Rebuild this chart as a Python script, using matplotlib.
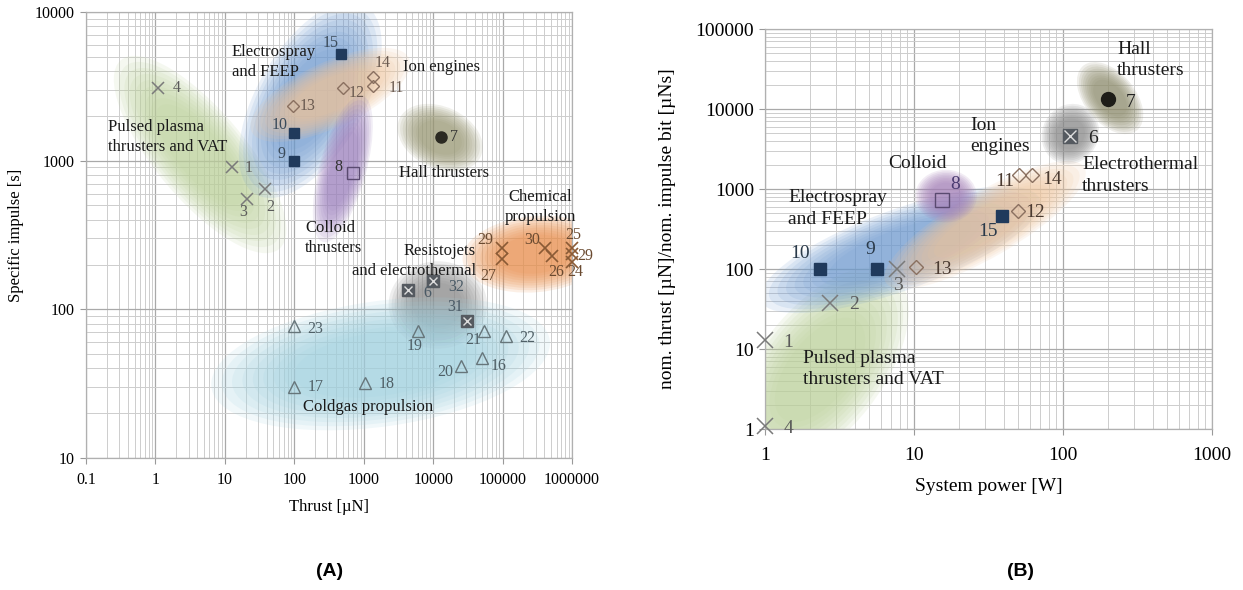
import numpy as np
import matplotlib
matplotlib.use("Agg")
import matplotlib.pyplot as plt
from matplotlib.patches import Ellipse
from matplotlib.transforms import ScaledTranslation
from matplotlib.ticker import LogLocator, NullFormatter

plt.rcParams['font.family'] = ['Liberation Serif', 'DejaVu Serif']

# ---------------- data, panel A: thrust [uN] vs specific impulse [s]
a_ppt_x = [12.7, 38, 21, 1.1]
a_ppt_y = [910, 640, 550, 3100]
a_ppt_id = ['1', '2', '3', '4']

a_es_x = [100, 100, 470]
a_es_y = [1000, 1540, 5200]
a_es_id = ['9', '10', '15']

a_ion_x = [96, 500, 1350, 1350]
a_ion_y = [2340, 3100, 3650, 3200]
a_ion_id = ['13', '12', '14', '11']

a_col_x = [700]
a_col_y = [830]
a_col_id = ['8']

a_hall_x = [13000]
a_hall_y = [1450]
a_hall_id = ['7']

a_chem_x = [98000, 98000, 410000, 510000, 1000000, 1000000, 1000000]
a_chem_y = [260, 217, 260, 227, 260, 235, 207]
a_chem_id = ['29a', '27', '30', '26', '25', '29b', '24']

a_res_x = [4400, 10000, 31000]
a_res_y = [134, 155, 83]
a_res_id = ['6', '32', '31']

a_cold_x = [100, 100, 1050, 6000, 25000, 54000, 51000, 112000]
a_cold_y = [77, 30, 32, 71, 41.5, 72, 47, 66]
a_cold_id = ['23', '17', '18', '19', '20', '21', '16', '22']

a_xticks = [0.1, 1, 10, 100, 1000, 10000, 100000, 1000000]
a_xticklabels = ['0.1', '1', '10', '100', '1000', '10000', '100000', '1000000']
a_yticks = [10, 100, 1000, 10000]
a_yticklabels = ['10', '100', '1000', '10000']

# ---------------- data, panel B: system power [W] vs thrust / impulse bit [uNs]
b_ppt_x = [1, 2.73, 7.7, 1]
b_ppt_y = [13, 37.6, 100, 1.1]
b_ppt_id = ['1', '2', '3', '4']

b_es_x = [5.65, 2.34, 39]
b_es_y = [100, 100, 460]
b_es_id = ['9', '10', '15']

b_ion_x = [10.3, 50, 51, 62]
b_ion_y = [105, 530, 1500, 1500]
b_ion_id = ['13', '12', '11', '14']

b_col_x = [15.4]
b_col_y = [730]
b_col_id = ['8']

b_et_x = [112]
b_et_y = [4600]
b_et_id = ['6']

b_hall_x = [200]
b_hall_y = [13300]
b_hall_id = ['7']

b_xticks = [1, 10, 100, 1000]
b_xticklabels = ['1', '10', '100', '1000']
b_yticks = [1, 10, 100, 1000, 10000, 100000]
b_yticklabels = ['1', '10', '100', '1000', '10000', '100000']

# label offsets in pixels (dx, dy) relative to marker
a_off = {'1': (17, -1), '2': (5, -18), '3': (-4, -13), '4': (18, 0),
         '9': (-13, 7), '10': (-15, 8), '15': (-10, 11),
         '13': (15, 0), '12': (14, -5), '14': (10, 14), '11': (24, -2),
         '8': (-15, 6), '7': (13, 0),
         '29a': (-17, 8), '27': (-14, -17), '30': (-13, 8), '26': (4, -16),
         '25': (1, 13), '29b': (13, -2), '24': (3, -10),
         '6': (19, -3), '32': (23, -6), '31': (-12, 14),
         '23': (21, -3), '17': (21, 0), '18': (21, -1), '19': (-3, -15),
         '20': (-16, -6), '21': (-11, -9), '16': (16, -8), '22': (21, -2)}
b_off = {'1': (23, -3), '2': (24, -2), '3': (1, -17), '4': (23, -3),
         '9': (-7, 20), '10': (-20, 15), '15': (-14, -16),
         '13': (26, -2), '12': (17, -1), '11': (-15, -7), '14': (20, -5),
         '8': (13, 15), '6': (23, -3), '7': (23, -3)}

fig = plt.figure(figsize=(12.43, 5.90), dpi=100)
axA = fig.add_axes([86 / 1243, 1 - 458 / 590, 486 / 1243, 446 / 590])
axB = fig.add_axes([765 / 1243, 1 - 429 / 590, 447 / 1243, 400 / 590])


def blob(ax, x, y, w, h, ang, color, n=9):
    # soft shaded region: stacked translucent ellipses, size in pixels
    for k in range(n):
        s = 1.12 - 0.55 * k / (n - 1)
        tr = fig.dpi_scale_trans + ScaledTranslation(x, y, ax.transData)
        ax.add_patch(Ellipse((0, 0), w * s / 100, h * s / 100, angle=ang, transform=tr,
                             fc=color, ec='none', alpha=0.14, zorder=1))


def style(ax, xt, xtl, yt, ytl, fs, pad):
    ax.set_xscale('log')
    ax.set_yscale('log')
    ax.set_xticks(xt)
    ax.set_xticklabels(xtl)
    ax.set_yticks(yt)
    ax.set_yticklabels(ytl)
    ax.set_xlim(xt[0], xt[-1])
    ax.set_ylim(yt[0], yt[-1])
    ax.xaxis.set_minor_locator(LogLocator(base=10, subs=np.arange(2, 10)))
    ax.yaxis.set_minor_locator(LogLocator(base=10, subs=np.arange(2, 10)))
    ax.xaxis.set_minor_formatter(NullFormatter())
    ax.yaxis.set_minor_formatter(NullFormatter())
    ax.grid(which='major', color='#a9a9a9', lw=0.9, zorder=0)
    ax.grid(which='minor', color='#cdcdcd', lw=0.7, zorder=0)
    ax.set_axisbelow(True)
    ax.tick_params(which='major', length=4, color='#999999', labelsize=fs, pad=4)
    ax.tick_params(axis='x', which='major', pad=pad)
    ax.tick_params(which='minor', length=0)
    for sp in ax.spines.values():
        sp.set_color('#b0b0b0')
        sp.set_linewidth(0.9)


def labels(ax, xs, ys, ids, off, fs, color='#5a5a5a'):
    for x, y, i in zip(xs, ys, ids):
        dx, dy = off[i]
        ax.annotate(i.rstrip('ab'), (x, y), xytext=(dx, dy), textcoords='offset pixels',
                    ha='center', va='center', fontsize=fs, color=color, zorder=5)


style(axA, a_xticks, a_xticklabels, a_yticks, a_yticklabels, 11.5, 6)
style(axB, b_xticks, b_xticklabels, b_yticks, b_yticklabels, 14, 9)

# ---------------- panel A regions
blob(axA, 4.4, 1100, 220, 80, -50, '#bcd19b')
blob(axA, 170, 2570, 195, 95, 60, '#6f9bd0')
blob(axA, 330, 2770, 155, 58, 25, '#efc59c')
blob(axA, 500, 880, 135, 42, 75, '#9c80bd')
blob(axA, 12600, 1430, 80, 55, -25, '#9a9874')
blob(axA, 295000, 235, 130, 68, 5, '#ea8f4c')
blob(axA, 11700, 107, 88, 78, 0, '#8a8a8a')
blob(axA, 1750, 43, 305, 112, 8, '#9fd0df')

mk = dict(zorder=4, clip_on=False, ls='none')
axA.plot(a_ppt_x, a_ppt_y, 'x', ms=9, mew=1.1, color='#7a7a7a', **mk)
axA.plot(a_es_x, a_es_y, 's', ms=7.5, color='#203a5c', **mk)
axA.plot(a_ion_x, a_ion_y, 'D', ms=6, mfc='none', mew=1, color='#8a7060', **mk)
axA.plot(a_col_x, a_col_y, 's', ms=8, mfc='none', mew=1, color='#5a4a70', **mk)
axA.plot(a_hall_x, a_hall_y, 'o', ms=8, color='#2b2a22', **mk)
axA.plot(a_chem_x, a_chem_y, 'x', ms=9, mew=1.2, color='#8a5a35', **mk)
axA.plot(a_res_x, a_res_y, 's', ms=8, color='#555a60', **mk)
axA.plot(a_res_x, a_res_y, 'x', ms=6, mew=1, color='#dddddd', **mk)
axA.plot(a_cold_x, a_cold_y, '^', ms=8, mfc='none', mew=1, color='#66757a', **mk)

labels(axA, a_ppt_x, a_ppt_y, a_ppt_id, a_off, 11.5)
labels(axA, a_es_x, a_es_y, a_es_id, a_off, 11.5, '#3a4a5a')
labels(axA, a_ion_x, a_ion_y, a_ion_id, a_off, 11.5, '#6a5a50')
labels(axA, a_col_x, a_col_y, a_col_id, a_off, 11.5, '#333333')
labels(axA, a_hall_x, a_hall_y, a_hall_id, a_off, 11.5, '#333333')
labels(axA, a_chem_x, a_chem_y, a_chem_id, a_off, 11.5, '#6a4a30')
labels(axA, a_res_x, a_res_y, a_res_id, a_off, 11.5, '#4a5a66')
labels(axA, a_cold_x, a_cold_y, a_cold_id, a_off, 11.5, '#4f5f66')

ta = dict(fontsize=12, color='#1a1a1a', zorder=6, linespacing=1.35)
axA.text(12.6, 4600, 'Electrospray\nand FEEP', ha='left', va='center', **ta)
axA.text(3700, 4250, 'Ion engines', ha='left', va='center', **ta)
axA.text(0.207, 1440, 'Pulsed plasma\nthrusters and VAT', ha='left', va='center', **ta)
axA.text(3230, 830, 'Hall thrusters', ha='left', va='center', **ta)
axA.text(143, 302, 'Colloid\nthrusters', ha='left', va='center', **ta)
axA.text(347000, 490, 'Chemical\npropulsion', ha='center', va='center', **ta)
axA.text(41600, 212, 'Resistojets\nand electrothermal', ha='right', va='center',
         multialignment='right', **ta)
axA.text(134, 22, 'Coldgas propulsion', ha='left', va='center', **ta)

axA.set_xlabel('Thrust [\u00b5N]', fontsize=12, labelpad=8)
axA.set_ylabel('Specific impulse [s]', fontsize=12, labelpad=8)

# ---------------- panel B regions
blob(axB, 2.34, 5.5, 215, 110, 52, '#bcd19b')
blob(axB, 8.1, 174, 265, 72, 20, '#6f9bd0')
blob(axB, 30, 355, 205, 58, 30, '#efc59c')
blob(axB, 16.4, 815, 55, 47, 0, '#a37fb8')
blob(axB, 112, 4870, 50, 55, -30, '#8a8a8a')
blob(axB, 207, 13700, 75, 45, -50, '#8e8c6c')

axB.plot(b_ppt_x, b_ppt_y, 'x', ms=11, mew=1.1, color='#7a7a7a', **mk)
axB.plot(b_es_x, b_es_y, 's', ms=9, color='#203a5c', **mk)
axB.plot(b_ion_x, b_ion_y, 'D', ms=7, mfc='none', mew=1, color='#8a7060', **mk)
axB.plot(b_col_x, b_col_y, 's', ms=10, mfc='none', mew=1, color='#5a4a70', **mk)
axB.plot(b_et_x, b_et_y, 's', ms=10, color='#555a60', **mk)
axB.plot(b_et_x, b_et_y, 'x', ms=8, mew=1, color='#dddddd', **mk)
axB.plot(b_hall_x, b_hall_y, 'o', ms=10, color='#1e1d18', **mk)

labels(axB, b_ppt_x, b_ppt_y, b_ppt_id, b_off, 14)
labels(axB, b_es_x, b_es_y, b_es_id, b_off, 14, '#2a3a4a')
labels(axB, b_ion_x, b_ion_y, b_ion_id, b_off, 14, '#4a3a30')
labels(axB, b_col_x, b_col_y, b_col_id, b_off, 14, '#4a3a70')
labels(axB, b_et_x, b_et_y, b_et_id, b_off, 14, '#222222')
labels(axB, b_hall_x, b_hall_y, b_hall_id, b_off, 14, '#222222')

tb = dict(fontsize=14, color='#1a1a1a', zorder=6, linespacing=1.35)
axB.text(230, 41000, 'Hall\nthrusters', ha='left', va='center', **tb)
axB.text(23.8, 4600, 'Ion\nengines', ha='left', va='center', **tb)
axB.text(134, 1480, 'Electrothermal\nthrusters', ha='left', va='center', **tb)
axB.text(6.7, 2110, 'Colloid', ha='left', va='center', **tb)
axB.text(1.43, 570, 'Electrospray\nand FEEP', ha='left', va='center', **tb)
axB.text(1.8, 5.6, 'Pulsed plasma\nthrusters and VAT', ha='left', va='center', **tb)

axB.set_xlabel('System power [W]', fontsize=14, labelpad=10)
axB.set_ylabel('nom. thrust [\u00b5N]/nom. impulse bit [\u00b5Ns]', fontsize=14, labelpad=14)

fig.text(330 / 1243, 1 - 571 / 590, '(A)', ha='center', va='center', fontsize=14,
         fontweight='bold', family=['Liberation Sans Narrow', 'Liberation Sans', 'DejaVu Sans'])
fig.text(1020 / 1243, 1 - 571 / 590, '(B)', ha='center', va='center', fontsize=14,
         fontweight='bold', family=['Liberation Sans Narrow', 'Liberation Sans', 'DejaVu Sans'])

fig.savefig('out.png', dpi=100)
